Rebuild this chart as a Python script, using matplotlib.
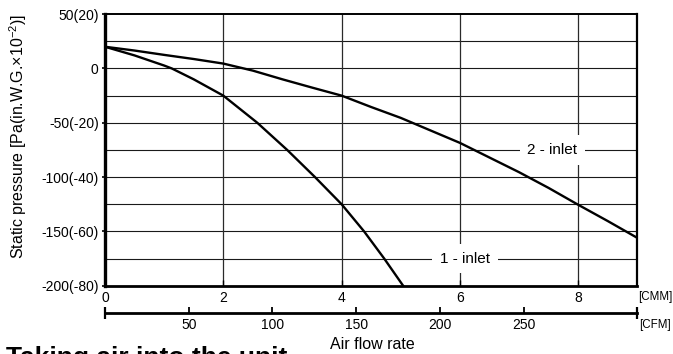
import matplotlib
matplotlib.use("Agg")
import matplotlib.pyplot as plt

plt.rcParams["font.family"] = ["Liberation Sans", "DejaVu Sans"]
plt.rcParams["mathtext.fontset"] = "custom"
plt.rcParams["mathtext.rm"] = "Liberation Sans"
plt.rcParams["mathtext.it"] = "Liberation Sans"

CMM_TO_CFM = 35.3147

# fan curves, flow in CMM, static pressure in Pa
inlet1_flow = [0, 0.5, 1.0, 1.13, 1.5, 2.0, 2.575, 3.08, 3.55, 4.0, 4.38, 4.72, 5.04]
inlet1_pressure = [20, 12, 2.7, 0, -10, -25, -50, -75, -100, -125, -150, -175, -200]
inlet2_flow = [0, 0.5, 1, 1.5, 2, 2.5, 3, 3.5, 4, 4.5, 5, 5.5, 6, 6.5, 7, 7.5, 8, 8.5, 9]
inlet2_pressure = [20, 16.5, 12.5, 8.7, 4.5, -2, -10, -17.6, -25, -35.5, -45.5, -57,
                   -68.5, -82, -95.5, -110, -125.5, -140.5, -156]

y_ticks = [50, 0, -50, -100, -150, -200]
y_tick_labels = ["50(20)", "0", "-50(-20)", "-100(-40)", "-150(-60)", "-200(-80)"]
x_ticks = [0, 2, 4, 6, 8]
cfm_ticks = [50, 100, 150, 200, 250]

fig = plt.figure(figsize=(6.73, 3.54), dpi=100)
ax = fig.add_axes([0.156, 0.193, 0.791, 0.767])

ax.set_xlim(0, 9)
ax.set_ylim(-200, 50)

for y in range(-175, 50, 25):
    ax.axhline(y, color="#1a1a1a", lw=0.8, zorder=1)
for x in x_ticks[1:]:
    ax.axvline(x, color="#2a2a2a", lw=0.9, zorder=1)

ax.plot(inlet1_flow, inlet1_pressure, color="black", lw=1.7, zorder=3)
ax.plot(inlet2_flow, inlet2_pressure, color="black", lw=1.7, zorder=3)

box = dict(facecolor="white", edgecolor="none", pad=5.5)
ax.text(7.565, -75, "2 - inlet", ha="center", va="center", fontsize=11, bbox=box, zorder=4)
ax.text(6.086, -175, "1 - inlet", ha="center", va="center", fontsize=11, bbox=box, zorder=4)

ax.spines["left"].set_linewidth(2.4)
ax.spines["bottom"].set_linewidth(2.0)
ax.spines["top"].set_linewidth(1.4)
ax.spines["right"].set_linewidth(1.6)

ax.set_yticks(y_ticks)
ax.set_yticklabels(y_tick_labels)
ax.tick_params(axis="y", direction="out", length=2.5, width=1.2, pad=2, labelsize=10)
ax.set_xticks(x_ticks)
ax.tick_params(axis="x", direction="in", length=4, width=1, pad=3.5, labelsize=10)

# second flow scale in CFM below the CMM axis
sec = ax.secondary_xaxis(-0.0994, functions=(lambda v: v * CMM_TO_CFM, lambda v: v / CMM_TO_CFM))
sec.set_xticks(cfm_ticks)
sec.spines["bottom"].set_linewidth(2.0)
sec.tick_params(axis="x", direction="in", length=4, width=1.3, pad=4, labelsize=10)
sec.set_xticks([0, 9 * CMM_TO_CFM], minor=True)
sec.tick_params(axis="x", which="minor", direction="inout", length=9, width=1.6)

fig.text(0.948, 0.161, "[CMM]", ha="left", va="center", fontsize=8.3)
fig.text(0.949, 0.081, "[CFM]", ha="left", va="center", fontsize=8.3)
fig.text(0.553, 0.028, "Air flow rate", ha="center", va="center", fontsize=11.5)
fig.text(0.027, 0.614, "Static pressure [Pa(in.W.G.×10$^{-2}$)]", rotation=90,
         ha="center", va="center", fontsize=11.5)
fig.text(0.009, -0.031, "Taking air into the unit", ha="left", va="baseline",
         fontsize=19, fontweight="bold")

fig.savefig("out.png", dpi=100)
